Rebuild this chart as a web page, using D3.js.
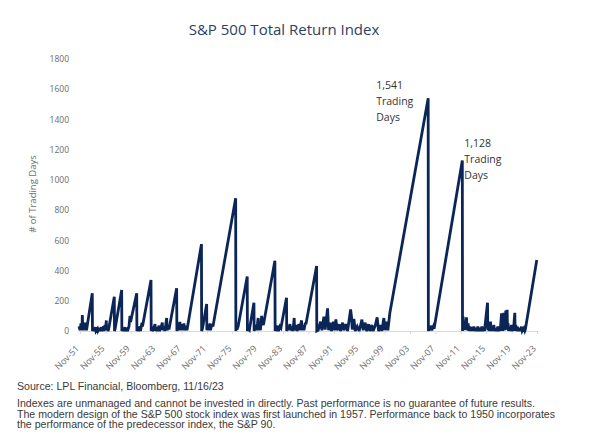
<!DOCTYPE html>
<html>
<head>
<meta charset="utf-8">
<script src="https://cdn.jsdelivr.net/npm/d3@7"></script>
<style>
  body { margin: 0; background: #fff; }
  .axis text { font-family: "Open Sans", sans-serif; font-size: 8.5px; fill: #6b6b6b; }
  .x.axis text { font-size: 9px; }
  .note { font-family: "Open Sans", sans-serif; font-size: 10.5px; fill: #333; }
  .foot { font-family: "Liberation Sans", Arial, sans-serif; font-size: 10.6px; fill: #3a3a3a; }
</style>
</head>
<body>
<div id="chart"></div>
<script>
var yTicks = [0, 200, 400, 600, 800, 1000, 1200, 1400, 1600, 1800];

var xTickYears = [1951.875, 1955.875, 1959.875, 1963.875, 1967.875, 1971.875, 1975.875,
  1979.875, 1983.875, 1987.875, 1991.875, 1995.875, 1999.875, 2003.875, 2007.875,
  2011.875, 2015.875, 2019.875, 2023.875];
var xTickLabels = ["Nov-51", "Nov-55", "Nov-59", "Nov-63", "Nov-67", "Nov-71", "Nov-75",
  "Nov-79", "Nov-83", "Nov-87", "Nov-91", "Nov-95", "Nov-99", "Nov-03", "Nov-07",
  "Nov-11", "Nov-15", "Nov-19", "Nov-23"];

// [decimal year, trading days since last high]
var tradingDays = [
  [1951.72,30],[1951.88,5],[1952.03,50],[1952.19,5],[1952.24,106],[1952.32,5],[1952.43,45],[1952.54,5],
  [1952.66,55],[1952.76,5],[1952.82,40],[1952.90,5],[1953.81,250],[1953.84,0],
  [1954.00,20],[1954.08,0],[1954.32,25],[1954.40,0],[1954.63,15],[1954.71,0],[1954.95,20],[1955.03,0],
  [1955.26,25],[1955.34,0],[1955.58,30],[1955.65,0],[1955.81,40],[1955.89,5],[1956.02,70],[1956.06,5],
  [1956.21,35],[1956.29,0],[1956.38,10],[1957.28,227],[1957.31,0],[1957.39,10],[1958.44,271],[1958.47,0],
  [1958.65,20],[1958.73,0],[1958.96,25],[1959.04,0],[1959.28,20],[1959.36,0],[1959.59,30],[1959.75,100],
  [1959.84,60],[1960.81,250],[1960.84,0],
  [1961.01,25],[1961.09,0],[1961.32,30],[1961.40,0],[1961.64,55],[1961.72,30],[1963.06,338],[1963.09,0],
  [1963.21,30],[1963.29,0],[1963.53,20],[1963.69,45],[1963.77,0],[1964.00,25],[1964.08,0],[1964.32,35],
  [1964.40,0],[1964.63,20],[1964.84,55],[1964.92,5],[1965.18,30],[1965.26,0],[1965.53,86],[1965.59,5],
  [1965.81,30],[1965.89,10],[1967.10,283],[1967.14,0],
  [1967.31,40],[1967.39,5],[1967.62,60],[1967.70,5],[1967.94,45],[1968.02,5],[1968.25,50],[1968.33,5],
  [1968.57,35],[1968.73,5],[1971.01,575],[1971.04,0],
  [1971.17,15],[1971.83,179],[1971.86,5],[1972.03,40],[1972.11,5],[1972.35,50],[1972.43,5],[1972.66,45],
  [1972.82,30],[1976.40,878],[1976.43,0],
  [1976.52,40],[1976.60,10],[1976.79,30],[1978.22,360],[1978.25,0],[1978.41,20],[1978.57,10],[1979.28,187],
  [1979.31,0],[1979.51,40],[1979.59,5],[1979.83,50],[1979.95,86],[1980.02,5],[1980.22,40],[1980.30,5],
  [1980.49,100],[1980.54,60],[1980.77,40],[1982.58,465],[1982.62,0],
  [1982.74,30],[1982.82,0],[1983.06,35],[1983.14,0],[1983.37,30],[1983.53,20],[1984.41,220],[1984.44,0],
  [1984.63,35],[1984.71,5],[1984.95,45],[1985.03,5],[1985.34,30],[1985.42,0],[1985.62,86],[1985.69,5],
  [1985.97,40],[1986.05,0],[1986.36,45],[1986.44,5],[1986.79,70],[1986.84,5],[1987.07,40],[1987.15,5],
  [1987.39,55],[1987.47,45],[1989.15,430],[1989.18,0],
  [1989.40,5],[1989.78,62],[1989.99,5],[1990.30,95],[1990.51,10],[1990.88,150],[1991.04,5],[1991.25,55],
  [1991.51,0],[1991.77,62],[1991.99,5],[1992.19,77],[1992.40,5],[1992.71,45],[1992.93,0],[1993.25,55],
  [1993.45,5],[1993.77,45],[1994.03,0],[1994.51,143],[1994.66,90],[1994.76,10],[1995.03,80],[1995.23,0],
  [1995.55,30],[1995.86,0],[1996.29,75],[1996.49,5],[1996.81,55],[1997.03,0],[1997.34,45],[1997.55,0],
  [1997.86,40],[1998.06,0],[1998.38,35],[1998.69,90],[1998.92,0],[1999.23,40],[1999.43,0],[1999.75,86],
  [1999.91,5],[2000.18,62],[2000.38,5],[2000.69,119],[2006.73,1541],[2006.76,0],
  [2006.92,30],[2006.99,5],[2007.23,35],[2007.31,5],[2007.55,30],[2007.66,15],[2012.11,1128],[2012.14,0],
  [2012.24,95],[2012.35,10],[2012.51,62],[2012.60,5],[2012.77,90],[2012.85,5],[2013.03,50],[2013.12,0],
  [2013.29,29],[2013.45,0],[2013.61,25],[2013.77,0],[2013.92,30],[2014.08,0],[2014.24,20],[2014.40,0],
  [2014.55,30],[2014.71,0],[2014.87,20],[2015.03,0],[2015.18,30],[2015.34,0],[2015.50,20],[2015.60,0],
  [2016.08,187],[2016.12,5],[2016.24,29],[2016.35,0],[2016.55,62],[2016.62,0],[2016.76,29],[2016.90,0],
  [2017.07,40],[2017.20,0],[2017.39,18],[2017.50,0],[2017.70,29],[2017.85,0],[2018.02,18],[2018.08,0],
  [2018.29,117],[2018.33,10],[2018.44,50],[2018.50,0],[2018.65,120],[2018.70,10],[2018.80,40],[2018.85,5],
  [2018.96,135],[2019.02,70],[2019.17,140],[2019.22,10],[2019.32,50],[2019.40,0],[2019.59,29],[2019.70,0],
  [2019.86,40],[2019.95,0],[2020.11,18],[2020.15,0],[2020.38,120],[2020.42,10],[2020.54,40],[2020.60,0],
  [2020.81,29],[2020.90,0],[2021.06,18],[2021.20,0],[2021.43,29],[2021.55,0],[2021.80,18],[2021.95,0],
  [2022.04,10],[2023.84,470]
];

// peak callouts: [year of peak, days, text lines]
var callouts = [
  [2006.73, 1541, ["1,541", "Trading", "Days"]],
  [2012.11, 1128, ["1,128", "Trading", "Days"]]
];
// where each callout's text sits relative to its peak (px)
var calloutOffset = [[-52, -9], [2, -14]];

var footnotes = [
  "Indexes are unmanaged and cannot be invested in directly. Past performance is no guarantee of future results.",
  "The modern design of the S&P 500 stock index was first launched in 1957. Performance back to 1950 incorporates",
  "the performance of the predecessor index, the S&P 90."
];

var width = 594, height = 445;
var margin = {top: 59, right: 57, bottom: 114, left: 80};
var chartBottom = height - margin.bottom;

var svg = d3.select("#chart").append("svg")
  .attr("width", width)
  .attr("height", height);

var xScale = d3.scaleLinear()
  .domain([1951.875, 2023.875])
  .range([margin.left, width - margin.right]);

var yScale = d3.scaleLinear()
  .domain([0, 1800])
  .range([chartBottom, margin.top]);

svg.append("text")
  .attr("x", 284)
  .attr("y", 35)
  .attr("text-anchor", "middle")
  .style("font-family", "'Open Sans', sans-serif")
  .style("font-size", "15px")
  .style("fill", "#2b3f63")
  .text("S&P 500 Total Return Index");

var yAxis = d3.axisLeft(yScale)
  .tickValues(yTicks)
  .tickFormat(d3.format("d"))
  .tickSize(0)
  .tickPadding(10);

svg.append("g")
  .attr("class", "y axis")
  .attr("transform", `translate(${margin.left - 1},0)`)
  .call(yAxis)
  .call(g => g.select(".domain").remove());

svg.append("text")
  .attr("transform", "translate(36,194) rotate(-90)")
  .attr("text-anchor", "middle")
  .style("font-family", "'Open Sans', sans-serif")
  .style("font-size", "9.5px")
  .style("fill", "#6b6b6b")
  .text("# of Trading Days");

var xAxis = d3.axisBottom(xScale)
  .tickValues(xTickYears)
  .tickFormat((d, i) => xTickLabels[i])
  .tickSize(3);

var xg = svg.append("g")
  .attr("class", "x axis")
  .attr("transform", `translate(0,${chartBottom})`)
  .call(xAxis);

xg.select(".domain").remove();
xg.selectAll(".tick line").attr("stroke", "#d9d9d9");
xg.selectAll(".tick text")
  .attr("text-anchor", "end")
  .attr("x", 0)
  .attr("y", 0)
  .attr("dy", "0.35em")
  .attr("transform", "translate(-3,16) rotate(-45)");

svg.append("line")
  .attr("x1", margin.left - 2)
  .attr("x2", width - margin.right + 1)
  .attr("y1", chartBottom + 0.5)
  .attr("y2", chartBottom + 0.5)
  .attr("stroke", "#d9d9d9")
  .attr("stroke-width", 1);

var line = d3.line()
  .x(d => xScale(d[0]))
  .y(d => yScale(d[1]));

svg.append("path")
  .datum(tradingDays)
  .attr("d", line)
  .attr("fill", "none")
  .attr("stroke", "#0c2557")
  .attr("stroke-width", 2.8)
  .attr("stroke-linejoin", "miter")
  .attr("stroke-miterlimit", 3);

callouts.forEach(function(c, k) {
  var x = xScale(c[0]) + calloutOffset[k][0];
  var t = svg.append("text")
    .attr("class", "note")
    .attr("x", x)
    .attr("y", yScale(c[1]) + calloutOffset[k][1]);
  c[2].forEach(function(s, i) {
    t.append("tspan")
      .attr("x", x)
      .attr("dy", i === 0 ? 0 : 16)
      .text(s);
  });
});

svg.append("text")
  .attr("class", "foot")
  .attr("x", 17)
  .attr("y", 390)
  .text("Source: LPL Financial, Bloomberg, 11/16/23");

svg.selectAll(".footline")
  .data(footnotes)
  .enter()
  .append("text")
  .attr("class", "foot")
  .attr("x", 17)
  .attr("y", (d, i) => 407 + i * 10.7)
  .text(d => d);
</script>
</body>
</html>
